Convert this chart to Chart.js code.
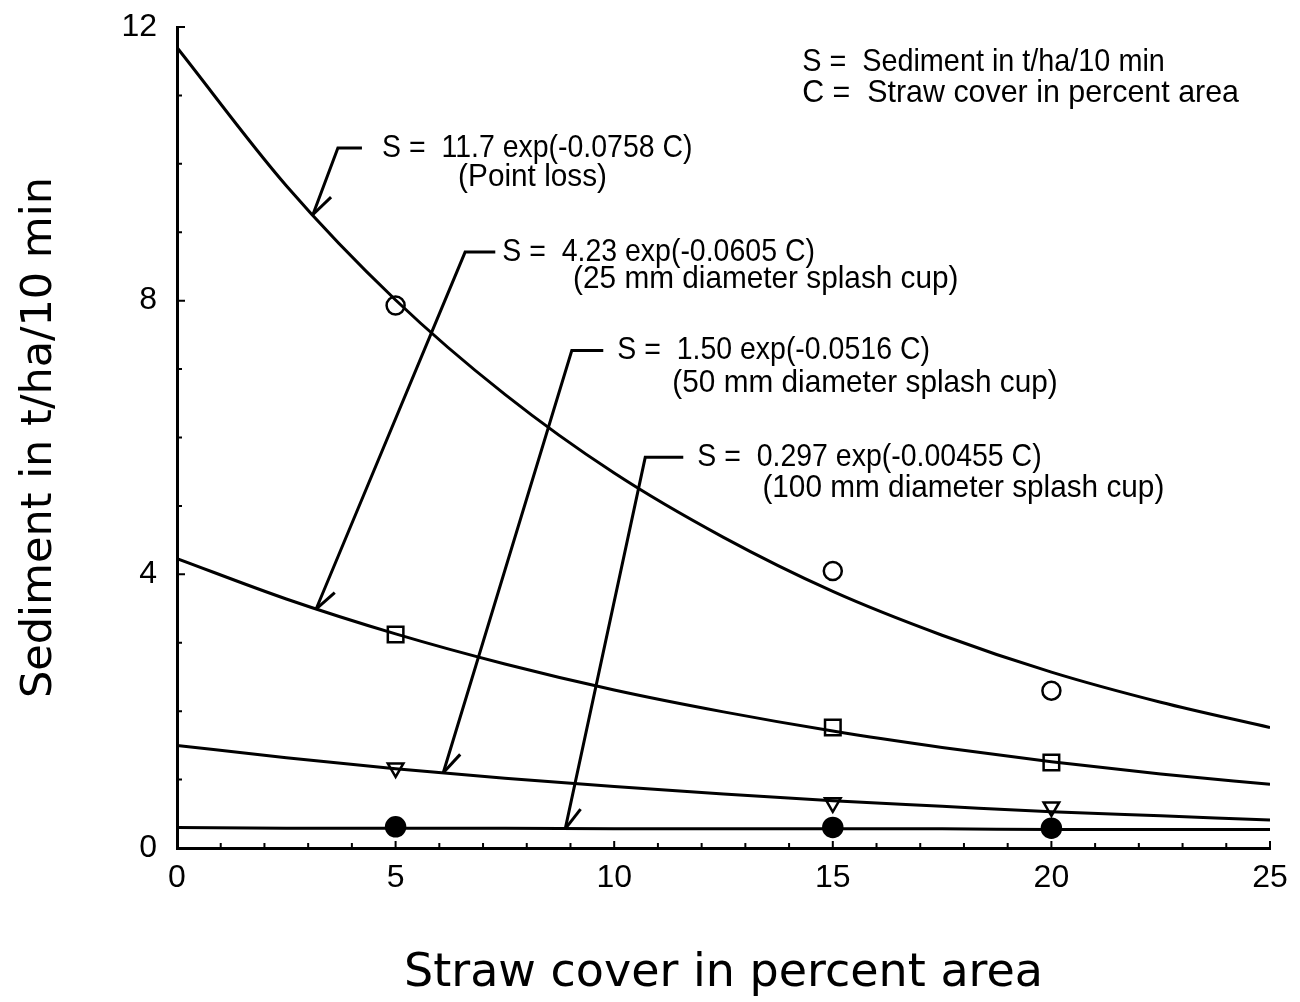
<!DOCTYPE html>
<html>
<head>
<meta charset="utf-8">
<script src="https://cdn.jsdelivr.net/npm/chart.js@4.4.0/dist/chart.umd.min.js"></script>
<style>
html, body { margin: 0; padding: 0; background: #fff; }
#contenedor { width: 1300px; height: 1002px; }
</style>
</head>
<body>
<div id="contenedor"><canvas id="grafico"></canvas></div>
<script>
const coberturaCurva = [0, 2.5, 5, 7.5, 10, 12.5, 15, 17.5, 20, 22.5, 25];
const curvaPuntual = [11.70, 9.68, 8.01, 6.63, 5.48, 4.54, 3.75, 3.11, 2.57, 2.13, 1.76];
const curvaCopa25 = [4.23, 3.64, 3.13, 2.69, 2.31, 1.99, 1.71, 1.47, 1.26, 1.08, 0.93];
const curvaCopa50 = [1.50, 1.32, 1.16, 1.02, 0.90, 0.79, 0.69, 0.61, 0.53, 0.47, 0.41];
const curvaCopa100 = [0.30, 0.29, 0.29, 0.29, 0.28, 0.28, 0.28, 0.28, 0.27, 0.27, 0.27];

// puntos medidos
const coberturaMedida = [5, 15, 20];
const medidoPuntual = [7.93, 4.05, 2.30];
const medidoCopa25 = [3.12, 1.76, 1.25];
const medidoCopa50 = [1.17, 0.66, 0.60];
const medidoCopa100 = [0.31, 0.30, 0.29];

// textos
const ecuaciones = [
    ['S =  11.7 exp(-0.0758 C)', '(Point loss)'],
    ['S =  4.23 exp(-0.0605 C)', '(25 mm diameter splash cup)'],
    ['S =  1.50 exp(-0.0516 C)', '(50 mm diameter splash cup)'],
    ['S =  0.297 exp(-0.00455 C)', '(100 mm diameter splash cup)']
];
const leyenda = ['S =  Sediment in t/ha/10 min', 'C =  Straw cover in percent area'];
const tituloX = 'Straw cover in percent area';
const tituloY = 'Sediment in t/ha/10 min';

// ubicacion de las llamadas, en unidades de los ejes
const llamadas = [
    { punta: [3.11, 9.26], codo: [3.68, 10.23], finTrazo: 4.23, x1: 4.69, x2: 6.43, y2: 9.80 },
    { punta: [3.18, 3.49], codo: [6.59, 8.71], finTrazo: 7.28, x1: 7.44, x2: 9.06, y2: 8.31 },
    { punta: [6.09, 1.10], codo: [9.03, 7.27], finTrazo: 9.75, x1: 10.07, x2: 11.33, y2: 6.80 },
    { punta: [8.88, 0.28], codo: [10.71, 5.71], finTrazo: 11.58, x1: 11.9, x2: 13.39, y2: 5.26 }
];
const posLeyenda = { x: 14.3, y1: 11.49, y2: 11.04 };

const fuente = '"Liberation Sans", Arial, sans-serif';

function puntos(xs, ys) {
    return xs.map((v, i) => ({ x: v, y: ys[i] }));
}

function curva(valores) {
    return {
        data: puntos(coberturaCurva, valores),
        showLine: true,
        borderColor: '#000',
        borderWidth: 3,
        pointRadius: 0,
        cubicInterpolationMode: 'monotone',
        fill: false
    };
}

function marcador(valores, estilo, relleno, radio, rotacion) {
    return {
        data: puntos(coberturaMedida, valores),
        showLine: false,
        pointStyle: estilo,
        pointRadius: radio,
        pointRotation: rotacion || 0,
        pointBorderColor: '#000',
        pointBorderWidth: 2.5,
        pointBackgroundColor: relleno
    };
}

// texto algo angosto, como en el original
function escribir(ctx, texto, x, y, factor) {
    const ancho = ctx.measureText(texto).width * factor;
    ctx.fillText(texto, x, y, ancho);
}

// marcas de los ejes hacia adentro
const marcasPlugin = {
    id: 'marcas',
    afterDatasetsDraw(chart) {
        const { ctx, chartArea, scales: { x, y } } = chart;
        ctx.save();
        ctx.strokeStyle = '#000';
        ctx.lineWidth = 2;
        ctx.beginPath();
        x.ticks.forEach(t => {
            const p = x.getPixelForValue(t.value);
            const largo = t.value % 5 === 0 ? 7 : 5;
            ctx.moveTo(p, chartArea.bottom);
            ctx.lineTo(p, chartArea.bottom - largo);
        });
        y.ticks.forEach(t => {
            const p = y.getPixelForValue(t.value);
            const largo = t.value % 4 === 0 ? 8 : 5;
            ctx.moveTo(chartArea.left, p);
            ctx.lineTo(chartArea.left + largo, p);
        });
        ctx.stroke();
        ctx.restore();
    }
};

// ecuaciones con flechas y leyenda de simbolos
const llamadasPlugin = {
    id: 'llamadas',
    afterDatasetsDraw(chart) {
        const { ctx, scales: { x, y } } = chart;
        const px = v => x.getPixelForValue(v);
        const py = v => y.getPixelForValue(v);
        ctx.save();
        ctx.strokeStyle = '#000';
        ctx.fillStyle = '#000';
        ctx.lineWidth = 3;
        ctx.font = '32px ' + fuente;
        ctx.textBaseline = 'middle';
        ctx.textAlign = 'left';
        llamadas.forEach((l, i) => {
            const tx = px(l.punta[0]), ty = py(l.punta[1]);
            const cx = px(l.codo[0]), cy = py(l.codo[1]);
            ctx.beginPath();
            ctx.moveTo(px(l.finTrazo), cy);
            ctx.lineTo(cx, cy);
            ctx.lineTo(tx, ty);
            ctx.stroke();
            // media flecha
            const ang = Math.atan2(cy - ty, cx - tx) + 0.45;
            ctx.beginPath();
            ctx.moveTo(tx, ty);
            ctx.lineTo(tx + 25 * Math.cos(ang), ty + 25 * Math.sin(ang));
            ctx.stroke();
            escribir(ctx, ecuaciones[i][0], px(l.x1), cy, 0.89);
            escribir(ctx, ecuaciones[i][1], px(l.x2), py(l.y2), 0.93);
        });
        escribir(ctx, leyenda[0], px(posLeyenda.x), py(posLeyenda.y1), 0.9);
        escribir(ctx, leyenda[1], px(posLeyenda.x), py(posLeyenda.y2), 0.95);
        ctx.restore();
    }
};

new Chart(document.getElementById('grafico'), {
    type: 'scatter',
    data: {
        datasets: [
            curva(curvaPuntual),
            curva(curvaCopa25),
            curva(curvaCopa50),
            curva(curvaCopa100),
            marcador(medidoPuntual, 'circle', 'rgba(0,0,0,0)', 9),
            marcador(medidoCopa25, 'rect', 'rgba(0,0,0,0)', 11),
            marcador(medidoCopa50, 'triangle', 'rgba(0,0,0,0)', 9, 180),
            marcador(medidoCopa100, 'circle', '#000', 9.5)
        ]
    },
    options: {
        responsive: true,
        maintainAspectRatio: false,
        animation: false,
        layout: { padding: { top: 27, right: 30, left: 0, bottom: 0 } },
        plugins: {
            legend: { display: false },
            tooltip: { enabled: false }
        },
        scales: {
            x: {
                type: 'linear',
                min: 0,
                max: 25,
                afterFit: s => { s.height = 154; },
                border: { display: true, color: '#000', width: 3 },
                grid: { drawOnChartArea: false, drawTicks: false },
                ticks: {
                    stepSize: 1,
                    autoSkip: false,
                    maxRotation: 0,
                    padding: 11,
                    color: '#000',
                    font: { family: fuente, size: 32 },
                    callback: v => (v % 5 === 0 ? v : '')
                },
                title: {
                    display: true,
                    text: tituloX,
                    color: '#000',
                    font: { family: '"DejaVu Sans"', size: 46 },
                    padding: { top: 0, bottom: 0 }
                }
            },
            y: {
                type: 'linear',
                min: 0,
                max: 12,
                afterFit: s => {
                    s.width = 177;
                    s.paddingTop = 0;
                    s.paddingBottom = 0;
                },
                border: { display: true, color: '#000', width: 3 },
                grid: { drawOnChartArea: false, drawTicks: false },
                ticks: {
                    stepSize: 1,
                    autoSkip: false,
                    padding: 20,
                    color: '#000',
                    font: { family: fuente, size: 32 },
                    callback: v => (v % 4 === 0 ? v : '')
                },
                title: {
                    display: true,
                    text: tituloY,
                    color: '#000',
                    font: { family: '"DejaVu Sans"', size: 43 },
                    padding: { top: 14, bottom: 0 }
                }
            }
        }
    },
    plugins: [marcasPlugin, llamadasPlugin]
});
</script>
</body>
</html>
